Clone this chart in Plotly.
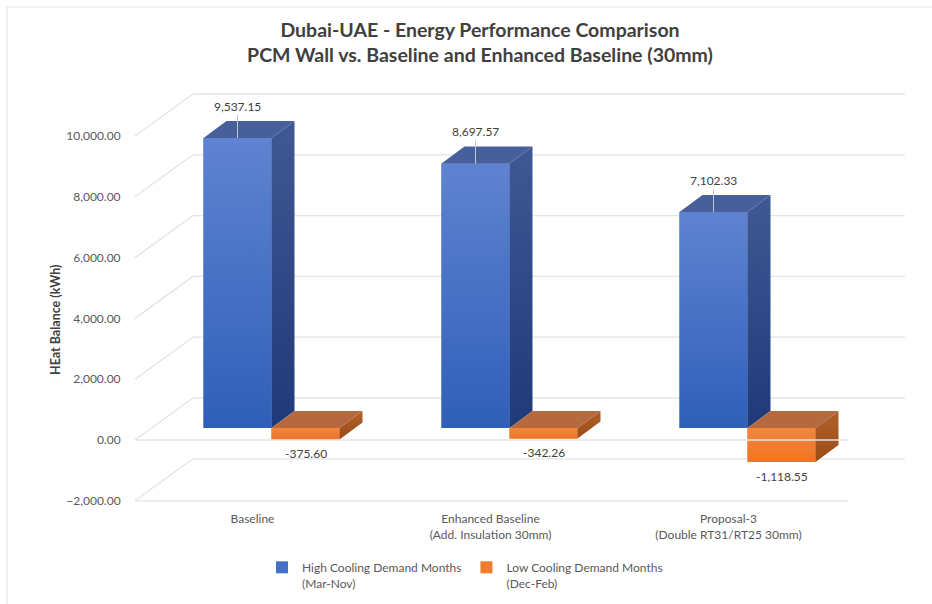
import plotly.graph_objects as go

# ---------------- data ----------------
categories = ["Baseline", "Enhanced Baseline<br>(Add. Insulation 30mm)", "Proposal-3<br>(Double RT31/RT25 30mm)"]
high_cooling = [9537.15, 8697.57, 7102.33]
low_cooling = [-375.60, -342.26, -1118.55]
series_names = ["High Cooling Demand Months<br>(Mar-Nov)", "Low Cooling Demand Months<br>(Dec-Feb)"]
y_ticks = [-2000, 0, 2000, 4000, 6000, 8000, 10000]
title_lines = ["Dubai-UAE - Energy Performance Comparison", "PCM Wall vs. Baseline and Enhanced Baseline (30mm)"]
y_title = "HEat Balance (kWh)"

# ---------------- geometry (pixels) ----------------
W, H = 932, 604
L, R, T, B = 128, 12, 70, 96
PLOT_W, PLOT_H = W - L - R, H - T - B
GROUP_PX0, GROUP_STEP = 271.5, 238.0      # pixel of first group centre, pixels per category
ZERO_PX = 428.0                            # pixel of value 0 in bar plane
PX_PER_UNIT = 60.8 / 2000.0                # pixels per kWh

def dx(px):  # pixel distance -> x units
    return px / GROUP_STEP

def du(py):  # pixel distance (upwards) -> kWh units
    return py / PX_PER_UNIT

def x_of(px):
    return (px - GROUP_PX0) / GROUP_STEP

x_range = [x_of(L), x_of(W - R)]
y_range = [(ZERO_PX - (H - B)) / PX_PER_UNIT, (ZERO_PX - T) / PX_PER_UNIT]

FRONT_DU = du(-12)                         # bar plane -> front plane
BACK_DU = du(30)                           # bar plane -> back wall
DEPTH_DX, DEPTH_DU = dx(23), du(17)        # bar depth
BAR_W = dx(68)
LEFT_FRONT_PX, RIGHT_FRONT_PX = 135, 848
LEFT_BACK_PX, RIGHT_BACK_PX = 193, 905

BLUE_FRONT = ("#2f5fb9", "#5f83d0")   # bottom, top
BLUE_TOP = "#475f9b"
BLUE_SIDE = ("#1f3a78", "#3e5994")
OR_FRONT = ("#ee7424", "#f2873d")
OR_TOP = "#b5693f"
OR_SIDE = ("#9c4b14", "#b0602c")
GRID = "#e2e4ea"
TXT = "#595959"
FONT = "Lato"

fig = go.Figure()

# ---------------- bars (front faces) ----------------
xs = list(range(len(categories)))
fig.add_trace(go.Bar(x=xs, y=high_cooling, width=BAR_W, offset=-BAR_W, name=series_names[0],
                     marker=dict(color="#4470c8", line=dict(width=0)), hoverinfo="y"))
fig.add_trace(go.Bar(x=xs, y=low_cooling, width=BAR_W, offset=0, name=series_names[1],
                     marker=dict(color="#f07c2c", line=dict(width=0)), hoverinfo="y"))

# ---------------- shading / 3D faces derived from the values ----------------
def grad_poly(px, py, cols):
    ys = [p for p in py if p is not None]
    fig.add_trace(go.Scatter(x=px, y=py, fill="toself", mode="none", showlegend=False, hoverinfo="skip",
                             fillgradient=dict(type="vertical", start=min(ys), stop=max(ys),
                                               colorscale=[[0, cols[0]], [1, cols[1]]])))

def add_faces(values, offset, c_front, c_top, c_side):
    for i, v in enumerate(values):
        x0, x1 = i + offset, i + offset + BAR_W
        t, b = max(v, 0), min(v, 0)
        # front face shading
        grad_poly([x0, x1, x1, x0, x0], [b, b, t, t, b], c_front)
        # side face
        grad_poly([x1, x1, x1 + DEPTH_DX, x1 + DEPTH_DX, x1],
                  [b, t, t + DEPTH_DU, b + DEPTH_DU, b], c_side)
        # top face
        fig.add_trace(go.Scatter(x=[x0, x1, x1 + DEPTH_DX, x0 + DEPTH_DX, x0],
                                 y=[t, t, t + DEPTH_DU, t + DEPTH_DU, t],
                                 fill="toself", fillcolor=c_top, mode="none",
                                 showlegend=False, hoverinfo="skip"))

add_faces(high_cooling, -BAR_W, BLUE_FRONT, BLUE_TOP, BLUE_SIDE)
add_faces(low_cooling, 0, OR_FRONT, OR_TOP, OR_SIDE)

# ---------------- perspective grid ----------------
shapes = []
for t in y_ticks:
    yb = t + BACK_DU
    yf = t + FRONT_DU
    shapes.append(dict(type="line", xref="x", yref="y", layer="below",
                       x0=x_of(LEFT_BACK_PX), x1=x_of(RIGHT_BACK_PX), y0=yb, y1=yb,
                       line=dict(color=GRID, width=1.3)))
    shapes.append(dict(type="line", xref="x", yref="y", layer="below",
                       x0=x_of(LEFT_FRONT_PX), x1=x_of(LEFT_BACK_PX), y0=yf, y1=yb,
                       line=dict(color=GRID, width=1.3)))
for t in [y_ticks[0], 0]:
    yf = t + FRONT_DU
    shapes.append(dict(type="line", xref="x", yref="y", layer="above",
                       x0=x_of(LEFT_FRONT_PX), x1=x_of(RIGHT_FRONT_PX), y0=yf, y1=yf,
                       line=dict(color=GRID, width=1.3)))
# outer frame
shapes.append(dict(type="rect", xref="paper", yref="paper", layer="below",
                   x0=(7 - L) / PLOT_W, x1=(W + 20 - L) / PLOT_W,
                   y0=(H - B - (H + 20)) / PLOT_H, y1=(H - B - 7) / PLOT_H,
                   line=dict(color="#e6e7ec", width=1.2)))

# ---------------- data labels ----------------
annotations = []
for i, v in enumerate(high_cooling):
    annotations.append(dict(x=i - BAR_W / 2, y=v, xref="x", yref="y", text=f"{v:,.2f}",
                            showarrow=True, arrowhead=0, arrowwidth=1, arrowcolor="#c4c8d0",
                            ax=0, ay=-32, font=dict(family=FONT, size=12, color="#404040")))
for i, v in enumerate(low_cooling):
    annotations.append(dict(x=i + BAR_W / 2, y=v, xref="x", yref="y", text=f"{v:,.2f}",
                            showarrow=False, yanchor="middle", yshift=-14,
                            font=dict(family=FONT, size=12, color="#404040")))
annotations.append(dict(x=(55 - L) / PLOT_W, y=(H - B - 320) / PLOT_H, xref="paper", yref="paper",
                        xanchor="center", yanchor="middle",
                        text=f"<b>{y_title}</b>", textangle=-90, showarrow=False,
                        font=dict(family=FONT, size=12.5, color="#404040")))

fig.update_layout(
    width=W, height=H,
    margin=dict(l=L, r=R, t=T, b=B),
    paper_bgcolor="white", plot_bgcolor="white",
    barmode="overlay",
    title=dict(text="<b>" + title_lines[0] + "</b><br><b>" + title_lines[1] + "</b>",
               x=480 / W, xanchor="center", y=1 - 37 / H, yanchor="top", yref="container",
               font=dict(family=FONT, size=19.5, color="#404040")),
    xaxis=dict(range=x_range, tickmode="array", tickvals=xs, ticktext=categories,
               ticklabelshift=-19, ticklabelstandoff=2, showgrid=False, zeroline=False, showline=False,
               automargin=False, tickfont=dict(family=FONT, size=12, color=TXT), ticks=""),
    yaxis=dict(range=y_range, showticklabels=False, showgrid=False, zeroline=False, showline=False,
               automargin=False),
    yaxis2=dict(range=[y_range[0] - FRONT_DU, y_range[1] - FRONT_DU], overlaying="y", side="left",
                tickmode="array", tickvals=y_ticks, tickformat=",.2f", showgrid=False, zeroline=False,
                showline=False, ticks="outside", ticklen=4, tickcolor="rgba(0,0,0,0)", automargin=False,
                tickfont=dict(family=FONT, size=12, color=TXT)),
    legend=dict(orientation="h", xref="container", yref="container", x=262 / W, y=1 - 553 / H,
                xanchor="left", yanchor="top", valign="top",
                font=dict(family=FONT, size=12, color=TXT), traceorder="normal"),
    shapes=shapes, annotations=annotations,
    showlegend=True,
)
# dummy trace to activate yaxis2 tick labels
fig.add_trace(go.Scatter(x=[None], y=[None], yaxis="y2", showlegend=False, hoverinfo="skip"))

fig.write_html("out.html", config={"displayModeBar": False},
               post_script="document.body.style.margin='0';")
